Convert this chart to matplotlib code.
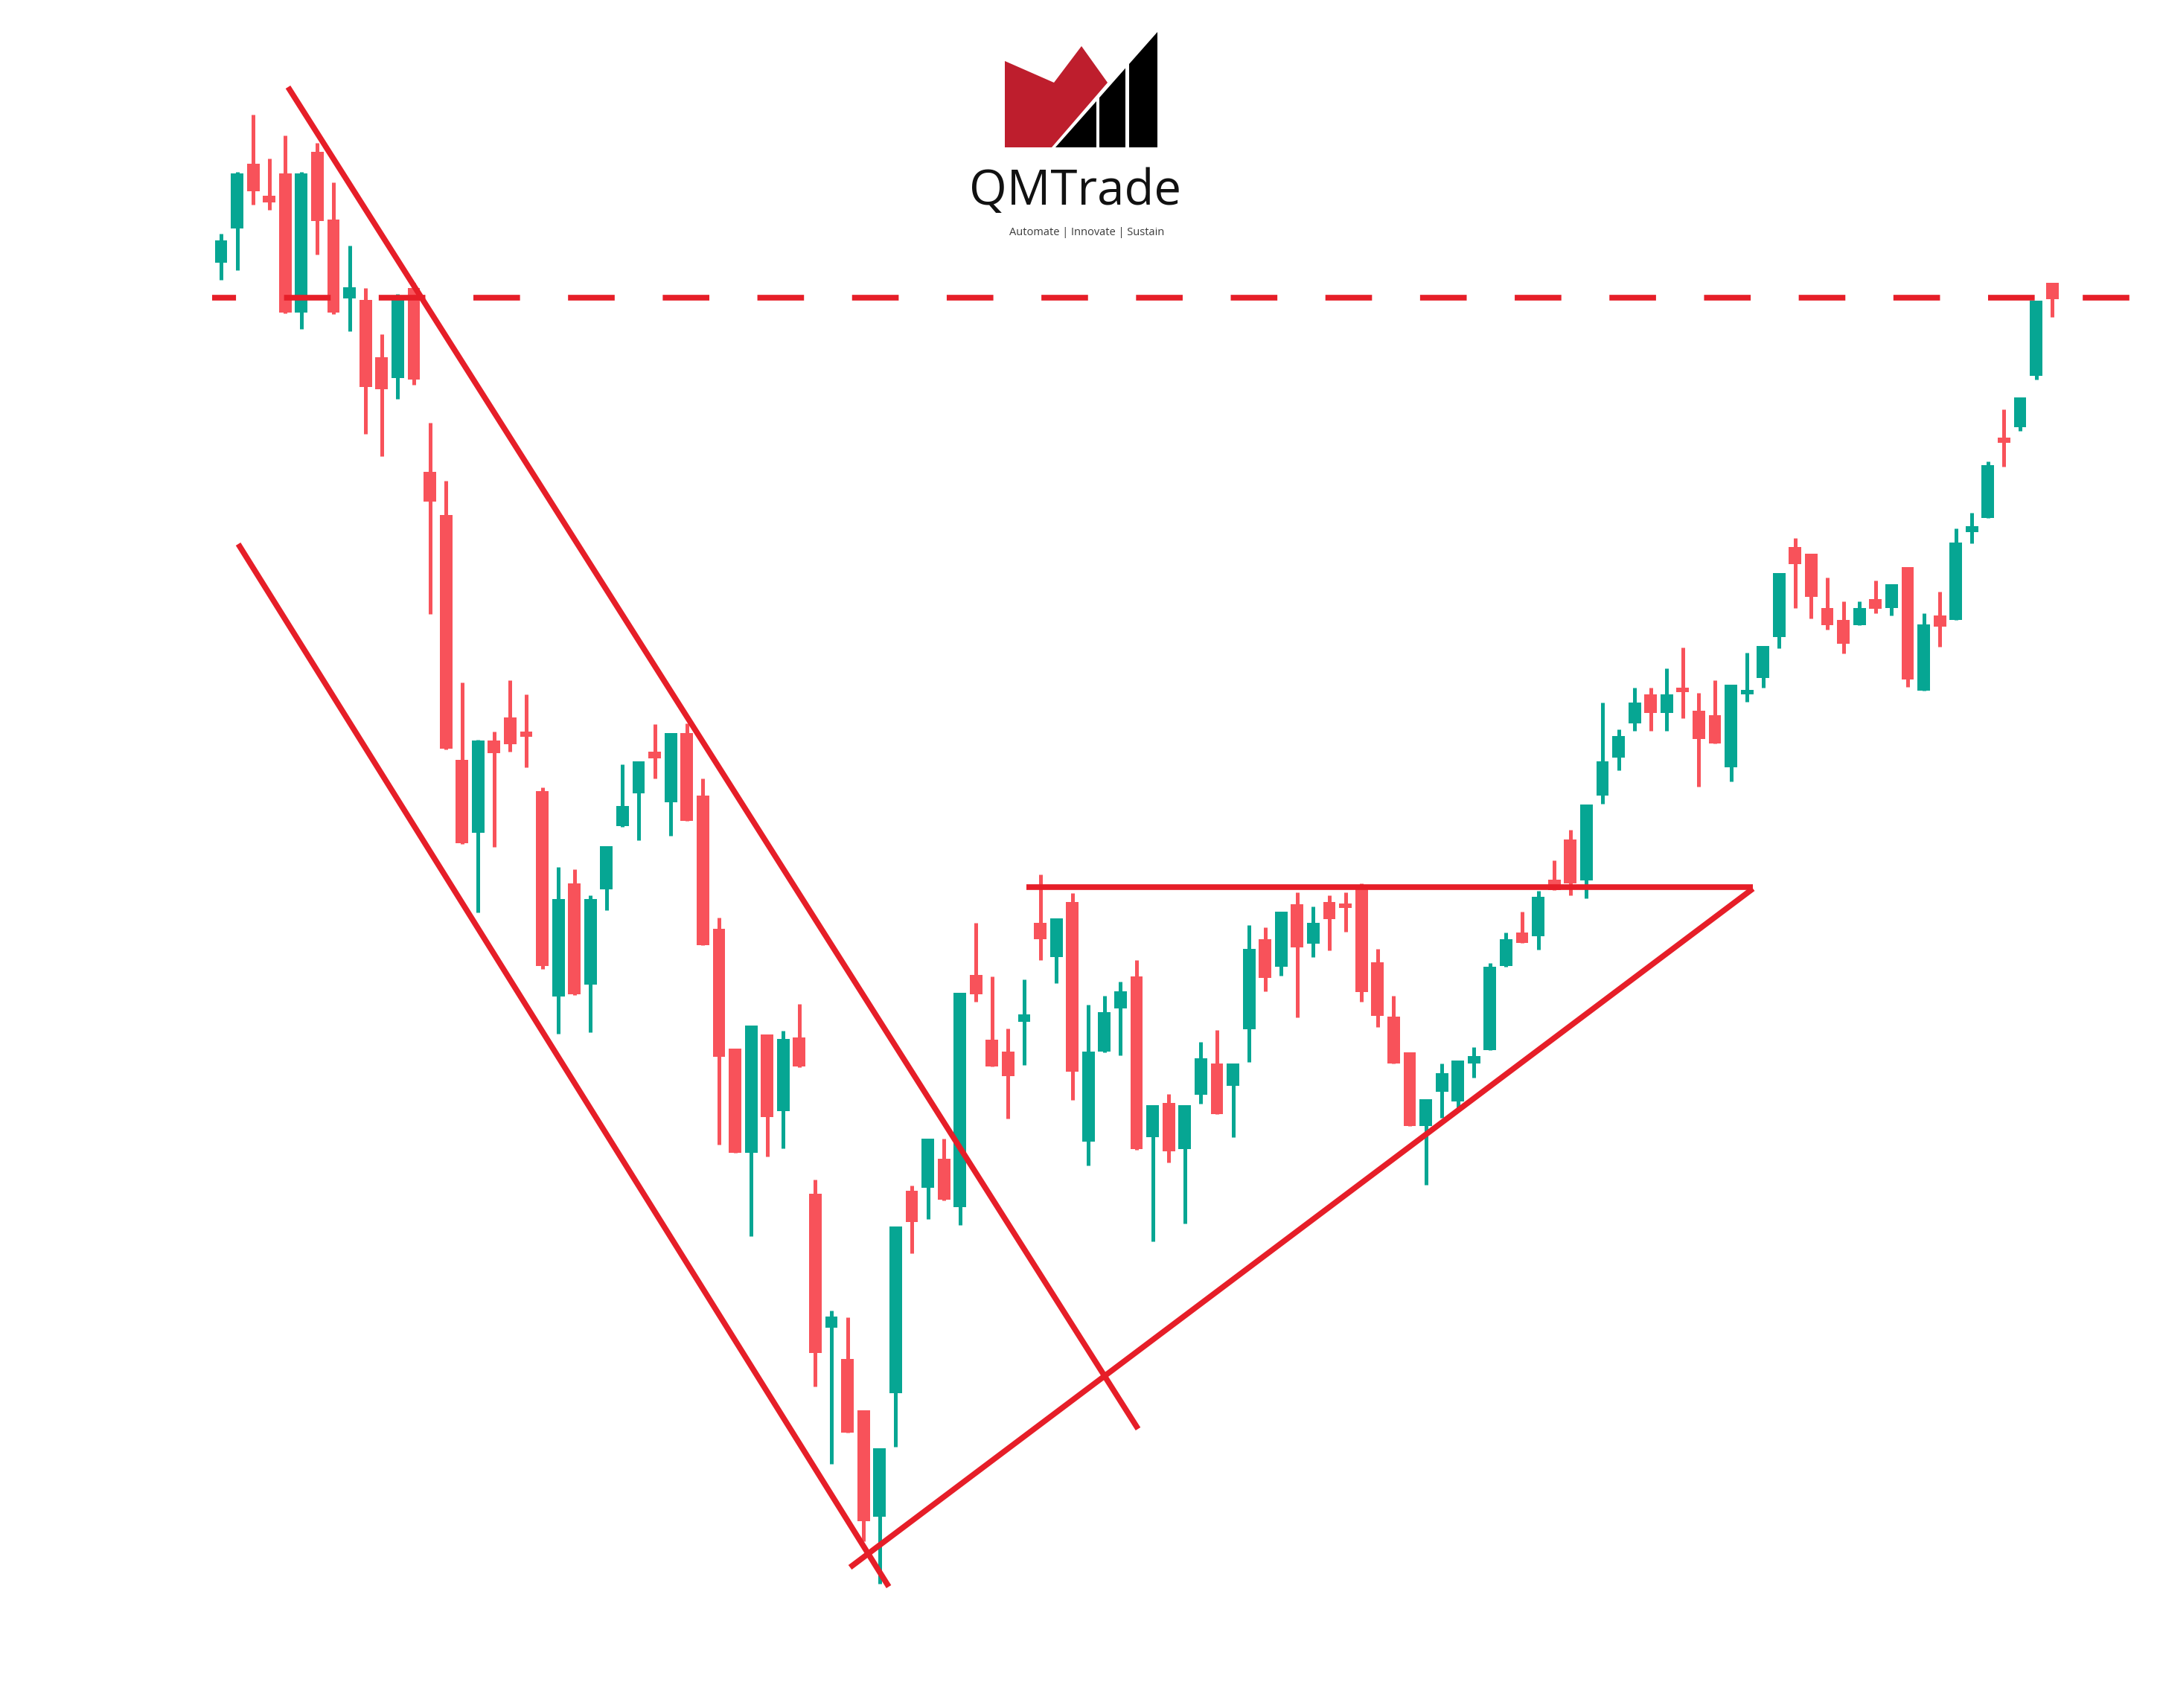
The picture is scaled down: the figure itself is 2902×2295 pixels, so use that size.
"""
QMTrade - 下降通道突破 + 上升三角形 K线示意图
"""

import numpy as np
import matplotlib.pyplot as plt
from matplotlib.patches import Polygon

# K线数据 (价格单位任意, 从图上读取)
opens = [194.2, 198.8, 207.5, 203.2, 206.2, 187.5, 209.1, 200.0, 189.4, 189.2,
         181.5, 178.7, 190.8, 166.1, 160.3, 127.4, 117.6, 130.0, 133.1, 131.2,
         123.2, 95.6, 110.8, 97.2, 110.0, 118.5, 122.9, 128.5, 121.7, 131.0,
         122.6, 104.7, 88.6, 74.6, 90.5, 80.2, 90.1, 69.1, 51.1, 46.9,
         40.0, 25.7, 42.3, 69.5, 69.9, 73.8, 67.3, 98.5, 89.8, 88.2,
         92.2, 105.5, 100.9, 108.3, 76.1, 88.2, 94.0, 98.3, 76.7, 81.3,
         75.1, 82.4, 86.6, 83.6, 91.2, 103.3, 99.6, 108.0, 102.7, 108.3,
         107.9, 110.6, 100.2, 92.9, 88.1, 78.2, 82.8, 81.5, 86.6, 88.4,
         99.7, 104.2, 103.7, 111.3, 116.7, 111.2, 122.6, 127.7, 132.3, 136.2,
         133.7, 136.9, 134.0, 133.4, 126.4, 136.2, 138.4, 143.9, 156.0, 155.1,
         147.8, 146.2, 145.5, 149.0, 147.8, 153.3, 136.7, 146.8, 146.2, 158.0,
         159.9, 170.7, 172.1, 179.0, 191.5]

highs = [198.1, 206.4, 214.1, 208.2, 211.3, 206.4, 210.3, 205.0, 196.5, 190.8,
         184.6, 190.0, 191.5, 172.7, 164.9, 137.8, 130.1, 131.2, 138.1, 136.2,
         123.7, 113.0, 112.7, 109.2, 115.8, 126.8, 127.2, 132.2, 131.0, 132.3,
         124.9, 106.2, 88.6, 91.7, 90.5, 91.0, 94.6, 71.0, 53.4, 52.5,
         40.0, 34.9, 64.7, 70.2, 76.5, 76.5, 96.1, 105.5, 98.3, 91.3,
         97.9, 112.0, 106.1, 109.5, 94.5, 95.7, 97.6, 100.5, 81.0, 82.5,
         81.0, 89.5, 91.1, 86.6, 105.2, 104.9, 107.0, 109.6, 107.7, 109.2,
         109.6, 110.8, 102.0, 95.7, 88.1, 81.8, 86.6, 87.0, 88.8, 100.1,
         104.2, 107.0, 109.8, 113.9, 118.0, 121.4, 135.1, 131.5, 137.1, 137.1,
         139.7, 142.5, 136.4, 138.1, 137.5, 141.8, 142.7, 152.5, 157.2, 155.1,
         151.9, 148.7, 148.7, 151.5, 151.0, 153.3, 147.1, 150.0, 158.5, 160.6,
         167.5, 174.5, 176.1, 189.1, 191.5]

lows = [191.9, 193.2, 202.0, 201.3, 187.4, 185.3, 195.3, 187.3, 185.0, 171.2,
        168.2, 175.9, 177.8, 147.0, 128.8, 116.1, 106.9, 115.7, 128.5, 126.4,
        99.3, 90.6, 95.8, 90.8, 107.2, 118.4, 116.6, 124.9, 117.2, 119.2,
        102.5, 75.7, 74.6, 63.4, 74.1, 75.2, 86.1, 43.2, 32.8, 37.0,
        22.4, 16.7, 35.1, 61.1, 65.7, 68.2, 64.9, 94.9, 86.2, 79.2,
        86.4, 100.5, 97.4, 81.7, 72.9, 88.1, 87.7, 75.0, 62.7, 73.3,
        65.1, 81.2, 79.8, 76.7, 86.8, 96.3, 98.4, 92.8, 100.9, 101.8,
        104.3, 94.9, 91.5, 86.6, 78.2, 70.3, 79.3, 80.5, 84.7, 88.4,
        99.6, 102.8, 101.9, 109.9, 109.2, 108.8, 121.5, 126.0, 131.3, 131.3,
        131.3, 133.0, 123.8, 129.6, 124.5, 135.2, 137.1, 142.4, 147.8, 146.4,
        144.9, 141.7, 145.5, 147.1, 146.8, 137.2, 136.7, 142.6, 146.2, 156.5,
        159.9, 166.8, 171.6, 178.5, 186.9]

closes = [197.2, 206.2, 203.8, 202.3, 187.5, 206.2, 199.8, 187.5, 190.9, 177.5,
          177.2, 189.8, 178.5, 162.1, 128.9, 116.2, 130.0, 128.3, 129.5, 130.5,
          99.7, 108.7, 95.9, 108.7, 115.8, 121.2, 127.2, 127.6, 131.0, 119.2,
          102.5, 87.5, 74.6, 91.7, 79.4, 89.9, 86.2, 47.7, 52.6, 37.0,
          25.1, 34.9, 64.7, 65.3, 76.5, 68.3, 96.1, 95.9, 86.2, 84.9,
          93.2, 103.3, 106.1, 85.5, 88.2, 93.5, 96.3, 75.1, 81.0, 74.8,
          81.0, 87.3, 79.8, 86.6, 102.0, 98.1, 107.0, 102.2, 105.5, 106.0,
          107.5, 96.2, 93.0, 86.6, 78.2, 81.8, 85.3, 87.0, 87.6, 99.6,
          103.3, 102.8, 109.0, 109.9, 110.8, 121.4, 127.2, 130.6, 135.1, 133.7,
          136.2, 136.5, 130.2, 129.6, 137.5, 136.8, 142.7, 152.5, 153.7, 149.3,
          145.5, 143.0, 147.8, 147.7, 151.0, 138.2, 145.6, 145.3, 156.6, 158.8,
          167.0, 170.0, 176.1, 189.1, 189.3]

# 趋势线 (K线序号, 价格)
upper_channel = [(4.17, 217.8), (57.09, 37.5)]
lower_channel = [(1.07, 156.4), (41.57, 16.3)]
rising_support = [(39.16, 18.9), (95.37, 110.1)]
flat_resistance = [(50.14, 110.3), (95.37, 110.3)]
breakout_level = 189.5
breakout_start = -0.56

UP_COLOR = '#06A693'
DOWN_COLOR = '#F8525A'
LINE_COLOR = '#E61E28'

fig = plt.figure(figsize=(29.02, 22.95), dpi=100)
fig.patch.set_facecolor('white')

ax = fig.add_axes([0, 0, 1, 1])
ax.set_xlim(-13.76, 120.71)
ax.set_ylim(0, 229.5)
ax.axis('off')

# 画K线
o = np.array(opens)
h = np.array(highs)
l = np.array(lows)
c = np.array(closes)
idx = np.arange(len(o))
colors = [UP_COLOR if cc >= oo else DOWN_COLOR for oo, cc in zip(o, c)]

ax.vlines(idx, l, h, colors=colors, linewidth=3.6, zorder=2)
body_bottom = np.minimum(o, c)
body_height = np.maximum(np.abs(c - o), 0.6)
ax.bar(idx, body_height, bottom=body_bottom, width=0.78, color=colors,
       linewidth=0, zorder=3)

# 趋势线
for seg in [upper_channel, lower_channel, rising_support, flat_resistance]:
    xs, ys = zip(*seg)
    ax.plot(xs, ys, color=LINE_COLOR, linewidth=5.5, solid_capstyle='butt', zorder=4)

ax.plot([breakout_start, 121], [breakout_level, breakout_level], color=LINE_COLOR,
        linewidth=5.5, linestyle=(4.0, (8.2, 8.45)), zorder=4)

# Logo (像素坐标)
lax = fig.add_axes([0, 0, 1, 1])
lax.set_xlim(0, 2902)
lax.set_ylim(2295, 0)
lax.axis('off')
lax.patch.set_alpha(0)

red_shape = [(1350, 82), (1416, 111), (1453, 62), (1488, 111), (1413, 198), (1350, 198)]
lax.add_patch(Polygon(red_shape, closed=True, facecolor='#BE1E2D', edgecolor='none'))


def diag_y(x):
    return 198 - (x - 1418) * 155 / 137


for x0, x1 in [(1418, 1473), (1477, 1512), (1517, 1555)]:
    pts = [(x0, 198), (x1, 198), (x1, diag_y(x1)), (x0, diag_y(x0))]
    lax.add_patch(Polygon(pts, closed=True, facecolor='black', edgecolor='none'))

lax.text(1445, 258, 'QMTrade', ha='center', va='center', fontsize=47,
         family='Open Sans', color='#111111')
lax.text(1460, 313, 'Automate | Innovate | Sustain', ha='center', va='center',
         fontsize=10.5, family='Open Sans', color='#3a3a3a')

plt.savefig('out.png', dpi=100, facecolor='white')
plt.close()
